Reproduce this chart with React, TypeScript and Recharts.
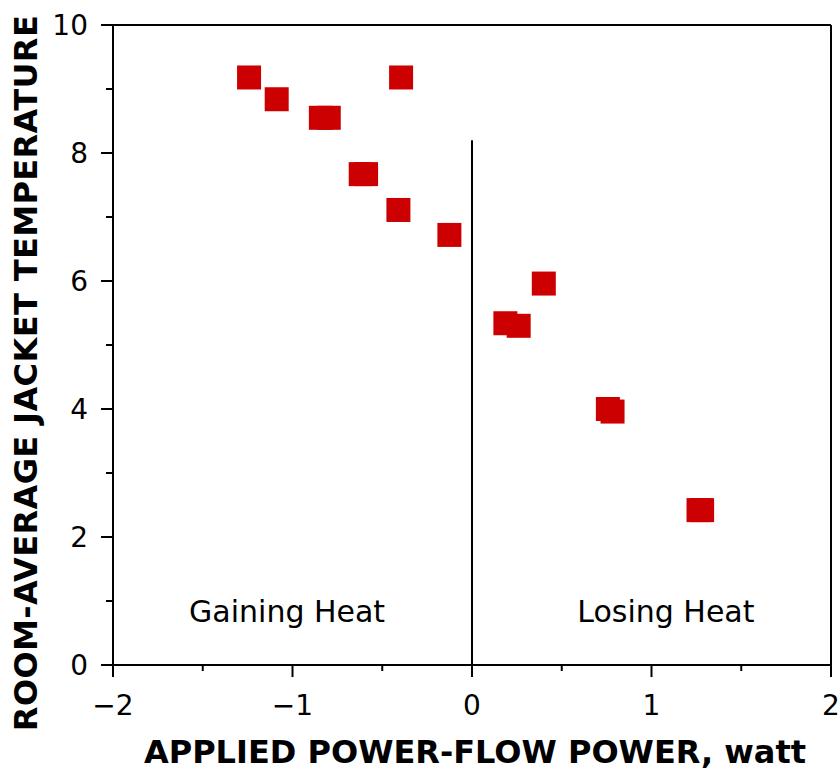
import React from 'react';
import { ScatterChart, Scatter, XAxis, YAxis, ReferenceLine } from 'recharts';

const powerWatt = [-1.242, -1.088, -0.842, -0.798, -0.395, -0.62, -0.59, -0.41, -0.126, 0.40, 0.186, 0.26, 0.757, 0.783, 1.262, 1.282];
const jacketTemp = [9.18, 8.84, 8.55, 8.55, 9.18, 7.67, 7.67, 7.11, 6.72, 5.96, 5.34, 5.30, 4.00, 3.96, 2.42, 2.42];

const xTicks = [-2, -1.5, -1, -0.5, 0, 0.5, 1, 1.5, 2];
const yTicks = [0, 1, 2, 3, 4, 5, 6, 7, 8, 9, 10];
const xMajor = [-2, -1, 0, 1, 2];
const yMajor = [0, 2, 4, 6, 8, 10];

const xTitle = 'APPLIED POWER-FLOW POWER, watt';
const yTitle = 'ROOM-AVERAGE JACKET TEMPERATURE';
const regionLabels = [
  { text: 'Gaining Heat', x: -1.03, y: 0.85 },
  { text: 'Losing Heat', x: 1.08, y: 0.85 },
];
const dividerTop = 8.2;

const data = powerWatt.map((p, i) => ({ p, t: jacketTemp[i] }));

const FONT = 'DejaVu Sans, sans-serif';
const RED = '#cc0000';

const Square = (props: any) => {
  const { cx, cy } = props;
  const s = 24;
  return <rect x={cx - s / 2} y={cy - s / 2} width={s} height={s} fill={RED} />;
};

const XTick = (props: any) => {
  const { x, y, payload } = props;
  const v = payload.value;
  const major = xMajor.includes(v);
  return (
    <g>
      <line x1={x} x2={x} y1={y} y2={y + (major ? 12 : 6)} stroke="#000" strokeWidth={2} />
      {major && (
        <text x={x} y={y + 50} textAnchor="middle" fontFamily={FONT} fontSize={28} fill="#000">
          {v < 0 ? '\u2212' + Math.abs(v) : String(v)}
        </text>
      )}
    </g>
  );
};

const YTick = (props: any) => {
  const { x, y, payload } = props;
  const v = payload.value;
  const major = yMajor.includes(v);
  return (
    <g>
      <line x1={x} x2={x - (major ? 12 : 7)} y1={y} y2={y} stroke="#000" strokeWidth={2} />
      {major && (
        <text x={x - 25} y={y + 10} textAnchor="end" fontFamily={FONT} fontSize={28} fill="#000">
          {String(v)}
        </text>
      )}
    </g>
  );
};

const RegionLabel = (props: any) => {
  const { viewBox, value } = props;
  return (
    <text x={viewBox.x} y={viewBox.y + 11} textAnchor="middle" fontFamily={FONT} fontSize={30} fill="#000">
      {value}
    </text>
  );
};

export default function App() {
  return (
    <div style={{ position: 'absolute', left: 0, top: 0, width: 840, height: 771, background: '#fff' }}>
      <ScatterChart width={840} height={771} margin={{ top: 25, right: 9, bottom: 0, left: 0 }}>
        <XAxis
          type="number"
          dataKey="p"
          domain={[-2, 2]}
          ticks={xTicks}
          interval={0}
          tickSize={0}
          tickMargin={0}
          tickLine={false}
          tick={<XTick />}
          axisLine={{ stroke: '#000', strokeWidth: 2 }}
          height={106}
          allowDataOverflow
        />
        <YAxis
          type="number"
          dataKey="t"
          domain={[0, 10]}
          ticks={yTicks}
          interval={0}
          tickSize={0}
          tickMargin={0}
          tickLine={false}
          tick={<YTick />}
          axisLine={{ stroke: '#000', strokeWidth: 2 }}
          width={113}
          allowDataOverflow
        />
        <ReferenceLine y={10} stroke="#000" strokeWidth={2} />
        <ReferenceLine x={2} stroke="#000" strokeWidth={2} />
        <ReferenceLine
          segment={[{ x: 0, y: 0 }, { x: 0, y: dividerTop }]}
          stroke="#000"
          strokeWidth={2}
        />
        {regionLabels.map((r) => (
          <ReferenceLine
            key={r.text}
            segment={[{ x: r.x, y: r.y }, { x: r.x, y: r.y }]}
            stroke="none"
            label={<RegionLabel value={r.text} />}
          />
        ))}
        <Scatter data={data} shape={<Square />} isAnimationActive={false} />
        <text x={475} y={763} textAnchor="middle" fontFamily={FONT} fontWeight="bold" fontSize={32} fill="#000">
          {xTitle}
        </text>
        <text
          x={37}
          y={373}
          textAnchor="middle"
          fontFamily={FONT}
          fontWeight="bold"
          fontSize={32}
          letterSpacing={0.4}
          fill="#000"
          transform="rotate(-90 37 373)"
        >
          {yTitle}
        </text>
      </ScatterChart>
    </div>
  );
}
